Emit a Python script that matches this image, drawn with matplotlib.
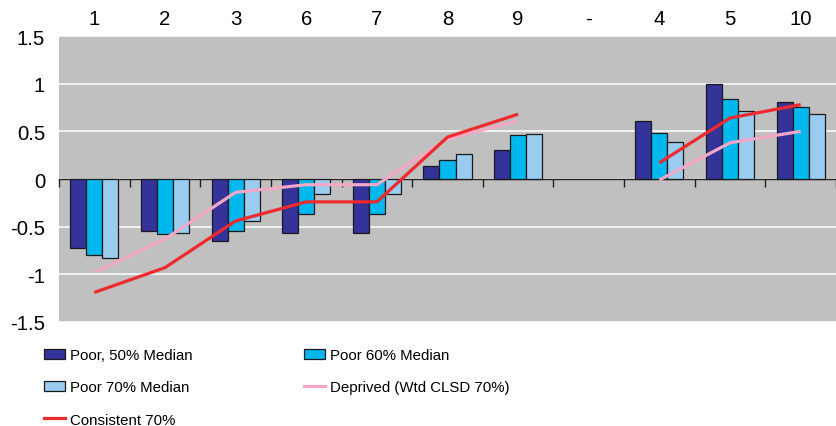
import numpy as np
import matplotlib
matplotlib.use("Agg")
import matplotlib.pyplot as plt
from matplotlib.patches import Patch
from matplotlib.lines import Line2D

plt.rcParams["font.family"] = ["Liberation Sans", "DejaVu Sans"]
plt.rcParams["axes.unicode_minus"] = False

categories = ["1", "2", "3", "6", "7", "8", "9", "-", "4", "5", "10"]
poor_50 = [-0.72, -0.55, -0.65, -0.57, -0.57, 0.14, 0.30, np.nan, 0.61, 1.00, 0.81]
poor_60 = [-0.80, -0.58, -0.55, -0.37, -0.37, 0.20, 0.46, np.nan, 0.48, 0.84, 0.76]
poor_70 = [-0.83, -0.57, -0.44, -0.16, -0.16, 0.26, 0.47, np.nan, 0.39, 0.71, 0.68]
deprived = [-0.98, -0.63, -0.14, -0.06, -0.06, 0.42, 0.61, np.nan, -0.01, 0.38, 0.50]
consistent = [-1.19, -0.93, -0.44, -0.24, -0.24, 0.44, 0.68, np.nan, 0.17, 0.64, 0.78]
y_ticks = [-1.5, -1, -0.5, 0, 0.5, 1, 1.5]
y_tick_labels = ["-1.5", "-1", "-0.5", "0", "0.5", "1", "1.5"]

c_dark = "#333399"
c_cyan = "#00B8EE"
c_light = "#99CCEE"
c_red = "#EE2A2E"
c_pink = "#F4A8C6"
bg = "#C0C0C0"

fig = plt.figure(figsize=(8.36, 4.27), dpi=100)
ax = fig.add_axes([59 / 836, 104 / 427, 777 / 836, 286 / 427])
ax.set_facecolor(bg)

x = np.arange(len(categories))
w = 0.227
bar_kw = dict(width=w, edgecolor="#1a1a1a", linewidth=0.9, zorder=3)
ax.bar(x - w, poor_50, color=c_dark, **bar_kw)
ax.bar(x, poor_60, color=c_cyan, **bar_kw)
ax.bar(x + w, poor_70, color=c_light, **bar_kw)

ax.plot(x, deprived, color=c_pink, lw=2.3, zorder=4, solid_capstyle="butt")
ax.plot(x, consistent, color=c_red, lw=2.3, zorder=5, solid_capstyle="butt")

ax.set_xlim(-0.5, len(categories) - 0.5)
ax.set_ylim(-1.5, 1.5)
ax.set_yticks(y_ticks)
ax.set_yticklabels(y_tick_labels)
ax.tick_params(axis="y", length=0, pad=10, labelsize=14.7)

ax.set_xticks(x)
ax.set_xticklabels(categories)
ax.set_xticks(np.arange(len(categories) + 1) - 0.5, minor=True)
ax.tick_params(axis="x", which="major", length=0, bottom=False, top=False,
               labelbottom=False, labeltop=True, labelsize=14.7, pad=6)
ax.tick_params(axis="x", which="minor", bottom=True, top=False, length=6,
               width=1, color="#222222", direction="out")

ax.yaxis.grid(True, color="white", lw=1.1, zorder=1)
ax.set_axisbelow(True)
for side in ["top", "right", "left"]:
    ax.spines[side].set_visible(False)
ax.spines["bottom"].set_position(("data", 0))
ax.spines["bottom"].set_color("#222222")
ax.spines["bottom"].set_linewidth(1.0)
ax.spines["bottom"].set_zorder(2)

handles = [
    Patch(facecolor=c_dark, edgecolor="#1a1a1a", lw=0.9, label="Poor, 50% Median"),
    Patch(facecolor=c_light, edgecolor="#1a1a1a", lw=0.9, label="Poor 70% Median"),
    Line2D([], [], color=c_red, lw=2.3, label="Consistent 70%"),
    Patch(facecolor=c_cyan, edgecolor="#1a1a1a", lw=0.9, label="Poor 60% Median"),
    Line2D([], [], color=c_pink, lw=2.3, label="Deprived (Wtd CLSD 70%)"),
]
fig.legend(handles=handles, loc="upper left", bbox_to_anchor=(44 / 836, 1 - 349 / 427),
           ncol=2, frameon=False, borderaxespad=0, borderpad=0,
           prop={"family": "Liberation Sans", "size": 10.8},
           handlelength=1.4, handleheight=0.7, handletextpad=0.35,
           labelspacing=1.22, columnspacing=7.4)

fig.savefig("out.png", dpi=100)
